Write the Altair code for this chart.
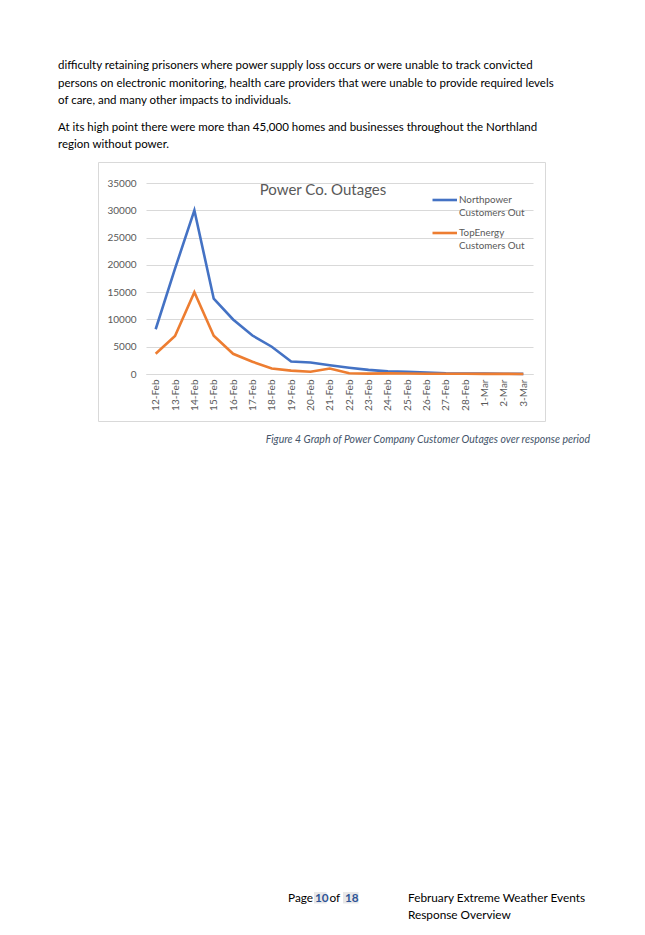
import altair as alt
import pandas as pd

dates = ["12-Feb", "13-Feb", "14-Feb", "15-Feb", "16-Feb", "17-Feb", "18-Feb", "19-Feb",
         "20-Feb", "21-Feb", "22-Feb", "23-Feb", "24-Feb", "25-Feb", "26-Feb", "27-Feb",
         "28-Feb", "1-Mar", "2-Mar", "3-Mar"]
northpower = [8200, 19300, 30000, 13800, 10000, 7050, 5000, 2300,
              2100, 1600, 1150, 750, 480, 420, 250, 120,
              100, 80, 50, 30]
topenergy = [3700, 6950, 15000, 7000, 3700, 2250, 1000, 620,
             400, 1000, 150, 70, 120, 80, 50, 40,
             40, 30, 20, 0]
series_names = ["Northpower Customers Out", "TopEnergy Customers Out"]
colors = ["#4472C4", "#ED7D31"]

body_lines = [
    "difficulty retaining prisoners where power supply loss occurs or were unable to track convicted",
    "persons on electronic monitoring, health care providers that were unable to provide required levels",
    "of care, and many other impacts to individuals.",
    "At its high point there were more than 45,000 homes and businesses throughout the Northland",
    "region without power.",
]
chart_title = "Power Co. Outages"
caption = "Figure 4 Graph of Power Company Customer Outages over response period"

rows = []
for d, a, b in zip(dates, northpower, topenergy):
    rows.append({"date": d, "series": series_names[0], "value": a})
    rows.append({"date": d, "series": series_names[1], "value": b})
df = pd.DataFrame(rows)

# layout: plot area origin on page
OX, OY = 146, 183
W, H = 387, 191
FONT = "Lato"
GREY = "#595959"


def px(x):
    return x - OX


def py(y):
    return y - OY


def text_layer(s, x, y, size=12, color="black", align="left", style="normal", weight="normal", font=FONT):
    return alt.Chart(pd.DataFrame({"t": [s]})).mark_text(
        font=font, fontSize=size, color=color, align=align, baseline="middle",
        fontStyle=style, fontWeight=weight
    ).encode(x=alt.value(px(x)), y=alt.value(py(y)), text="t:N")


def box_layer(x1, x2, y1, y2, fill=None, stroke=None):
    kw = {}
    if fill:
        kw["fill"] = fill
    else:
        kw["fillOpacity"] = 0
    if stroke:
        kw["stroke"] = stroke
        kw["strokeWidth"] = 1
    return alt.Chart(pd.DataFrame({"k": [0]})).mark_rect(**kw).encode(
        x=alt.value(px(x1)), x2=alt.value(px(x2)), y=alt.value(py(y1)), y2=alt.value(py(y2))
    )


frame = box_layer(98.5, 545.5, 162.5, 421.5, stroke="#d9d9d9")

lines = alt.Chart(df).mark_line(strokeWidth=2.6).encode(
    x=alt.X("date:N", sort=dates, title=None,
            scale=alt.Scale(type="point", padding=0.5),
            axis=alt.Axis(labelAngle=-90, labelFont=FONT, labelFontSize=10, labelColor=GREY,
                          ticks=False, domainColor="#d9d9d9", labelPadding=5, grid=False)),
    y=alt.Y("value:Q", title=None,
            scale=alt.Scale(domain=[0, 35000], nice=False),
            axis=alt.Axis(values=list(range(0, 35001, 5000)), format="d", labelFont=FONT,
                          labelFontSize=10, labelColor=GREY, ticks=False, domain=False,
                          gridColor="#d9d9d9", labelPadding=10)),
    color=alt.Color("series:N", scale=alt.Scale(domain=series_names, range=colors), legend=None),
)

layers = [frame, lines]

# chart title
layers.append(text_layer(chart_title, 323, 190, size=15, color=GREY, align="center"))

# legend
leg_y = [200, 233]
for name, c, ly in zip(series_names, colors, leg_y):
    layers.append(alt.Chart(pd.DataFrame({"k": [0]})).mark_rule(color=c, strokeWidth=2.6).encode(
        x=alt.value(px(432.5)), x2=alt.value(px(457)), y=alt.value(py(ly))))
    first, second = name.split(" ", 1)
    layers.append(text_layer(first, 459, ly, size=9.8, color=GREY))
    layers.append(text_layer(second, 459, ly + 13, size=9.8, color=GREY))

# body text
body_y = [66, 83.5, 100.5, 127.5, 145]
for s, y in zip(body_lines, body_y):
    layers.append(text_layer(s, 58, y, size=11.5))

# caption
layers.append(text_layer(caption, 590, 439.5, size=10.5, color="#44546A", align="right", style="italic"))

# footer
FS = 11.8
layers.append(box_layer(314, 326.5, 892, 903.5, fill="#e8e8e8"))
layers.append(box_layer(343, 358.5, 892, 903.5, fill="#e8e8e8"))
layers.append(text_layer("Page", 288, 897.5, size=FS))
layers.append(text_layer("10", 315, 897.5, size=FS, color="#2F5597", weight="bold"))
layers.append(text_layer("of", 329.5, 897.5, size=FS))
layers.append(text_layer("18", 345, 897.5, size=FS, color="#2F5597", weight="bold"))
layers.append(text_layer("February Extreme Weather Events", 408, 897.5, size=FS))
layers.append(text_layer("Response Overview", 408, 914.5, size=FS))

chart = alt.layer(*layers).properties(
    width=W, height=H,
    padding={"left": OX - 8, "top": OY - 8, "right": 645 - 8 - OX - W - 8, "bottom": 935 - 8 - OY - H - 1},
    autosize=alt.AutoSizeParams(type="none"),
    background="white",
).configure_view(stroke=None)

chart.save("out.html", embed_options={"renderer": "svg", "actions": False})
